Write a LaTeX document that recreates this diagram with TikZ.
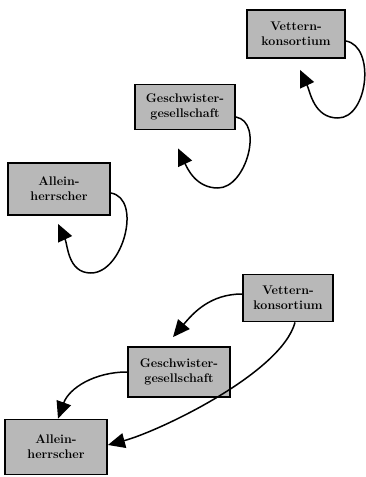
\documentclass[tikz,border=0pt]{standalone}
\usepackage{tikz}
\usetikzlibrary{arrows.meta}
\tikzset {
  x=1pt, y=1pt,
  % shaded boxes for the stages
  box/.style = {draw, line width=1.8pt, fill=black!28, align=center,
    font=\fontsize{12.5}{15}\selectfont\bfseries, inner sep=2pt},
  % curved arrows
  loopline/.style = {line width=1.5pt, -{Triangle[length=17pt,width=15pt]}},
  flow/.style = {line width=1.5pt, -{Triangle[length=17pt,width=15pt]}},
}

\begin{document}
\begin{tikzpicture}
  \useasboundingbox (0,0) rectangle (366,477);

  % first row: each stage stays as it is
  \node[box, minimum width=98pt, minimum height=48pt] (v1) at (296,443) {Vettern-\\konsortium};
  \node[box, minimum width=100pt, minimum height=45pt] (g1) at (185,370) {Geschwister-\\gesellschaft};
  \node[box, minimum width=102pt, minimum height=52pt] (a1) at (59,288) {Allein-\\herrscher};

  \draw[loopline] ([yshift=-7pt]v1.east) to[out=-10,in=0] ++(-8,-77)
    to[out=180,in=-65] ([shift={(4pt,-11pt)}]v1.south);
  \draw[loopline] ([yshift=-10pt]g1.east) to[out=-10,in=0] ++(-18,-71)
    to[out=180,in=-65] ([shift={(-7pt,-18pt)}]g1.south);
  \draw[loopline] ([yshift=-4pt]a1.east) to[out=-10,in=0] ++(-20,-80)
    to[out=180,in=-65] ([shift={(-1pt,-8pt)}]a1.south);

  % second row: stages step back
  \node[box, minimum width=90pt, minimum height=47pt] (v2) at (288,179) {Vettern-\\konsortium};
  \node[box, minimum width=102pt, minimum height=50pt] (g2) at (179,105) {Geschwister-\\gesellschaft};
  \node[box, minimum width=102pt, minimum height=55pt] (a2) at (56,30) {Allein-\\herrscher};

  \draw[flow] ([yshift=4pt]v2.west) to[out=180,in=50] ([shift={(-6pt,9pt)}]g2.north);
  \draw[flow] ([xshift=7pt]v2.south) to[out=-105,in=15,looseness=0.6] ([yshift=2pt]a2.east);
  \draw[flow] (g2.west) to[out=180,in=70] ([xshift=2pt]a2.north);
\end{tikzpicture}
\end{document}
